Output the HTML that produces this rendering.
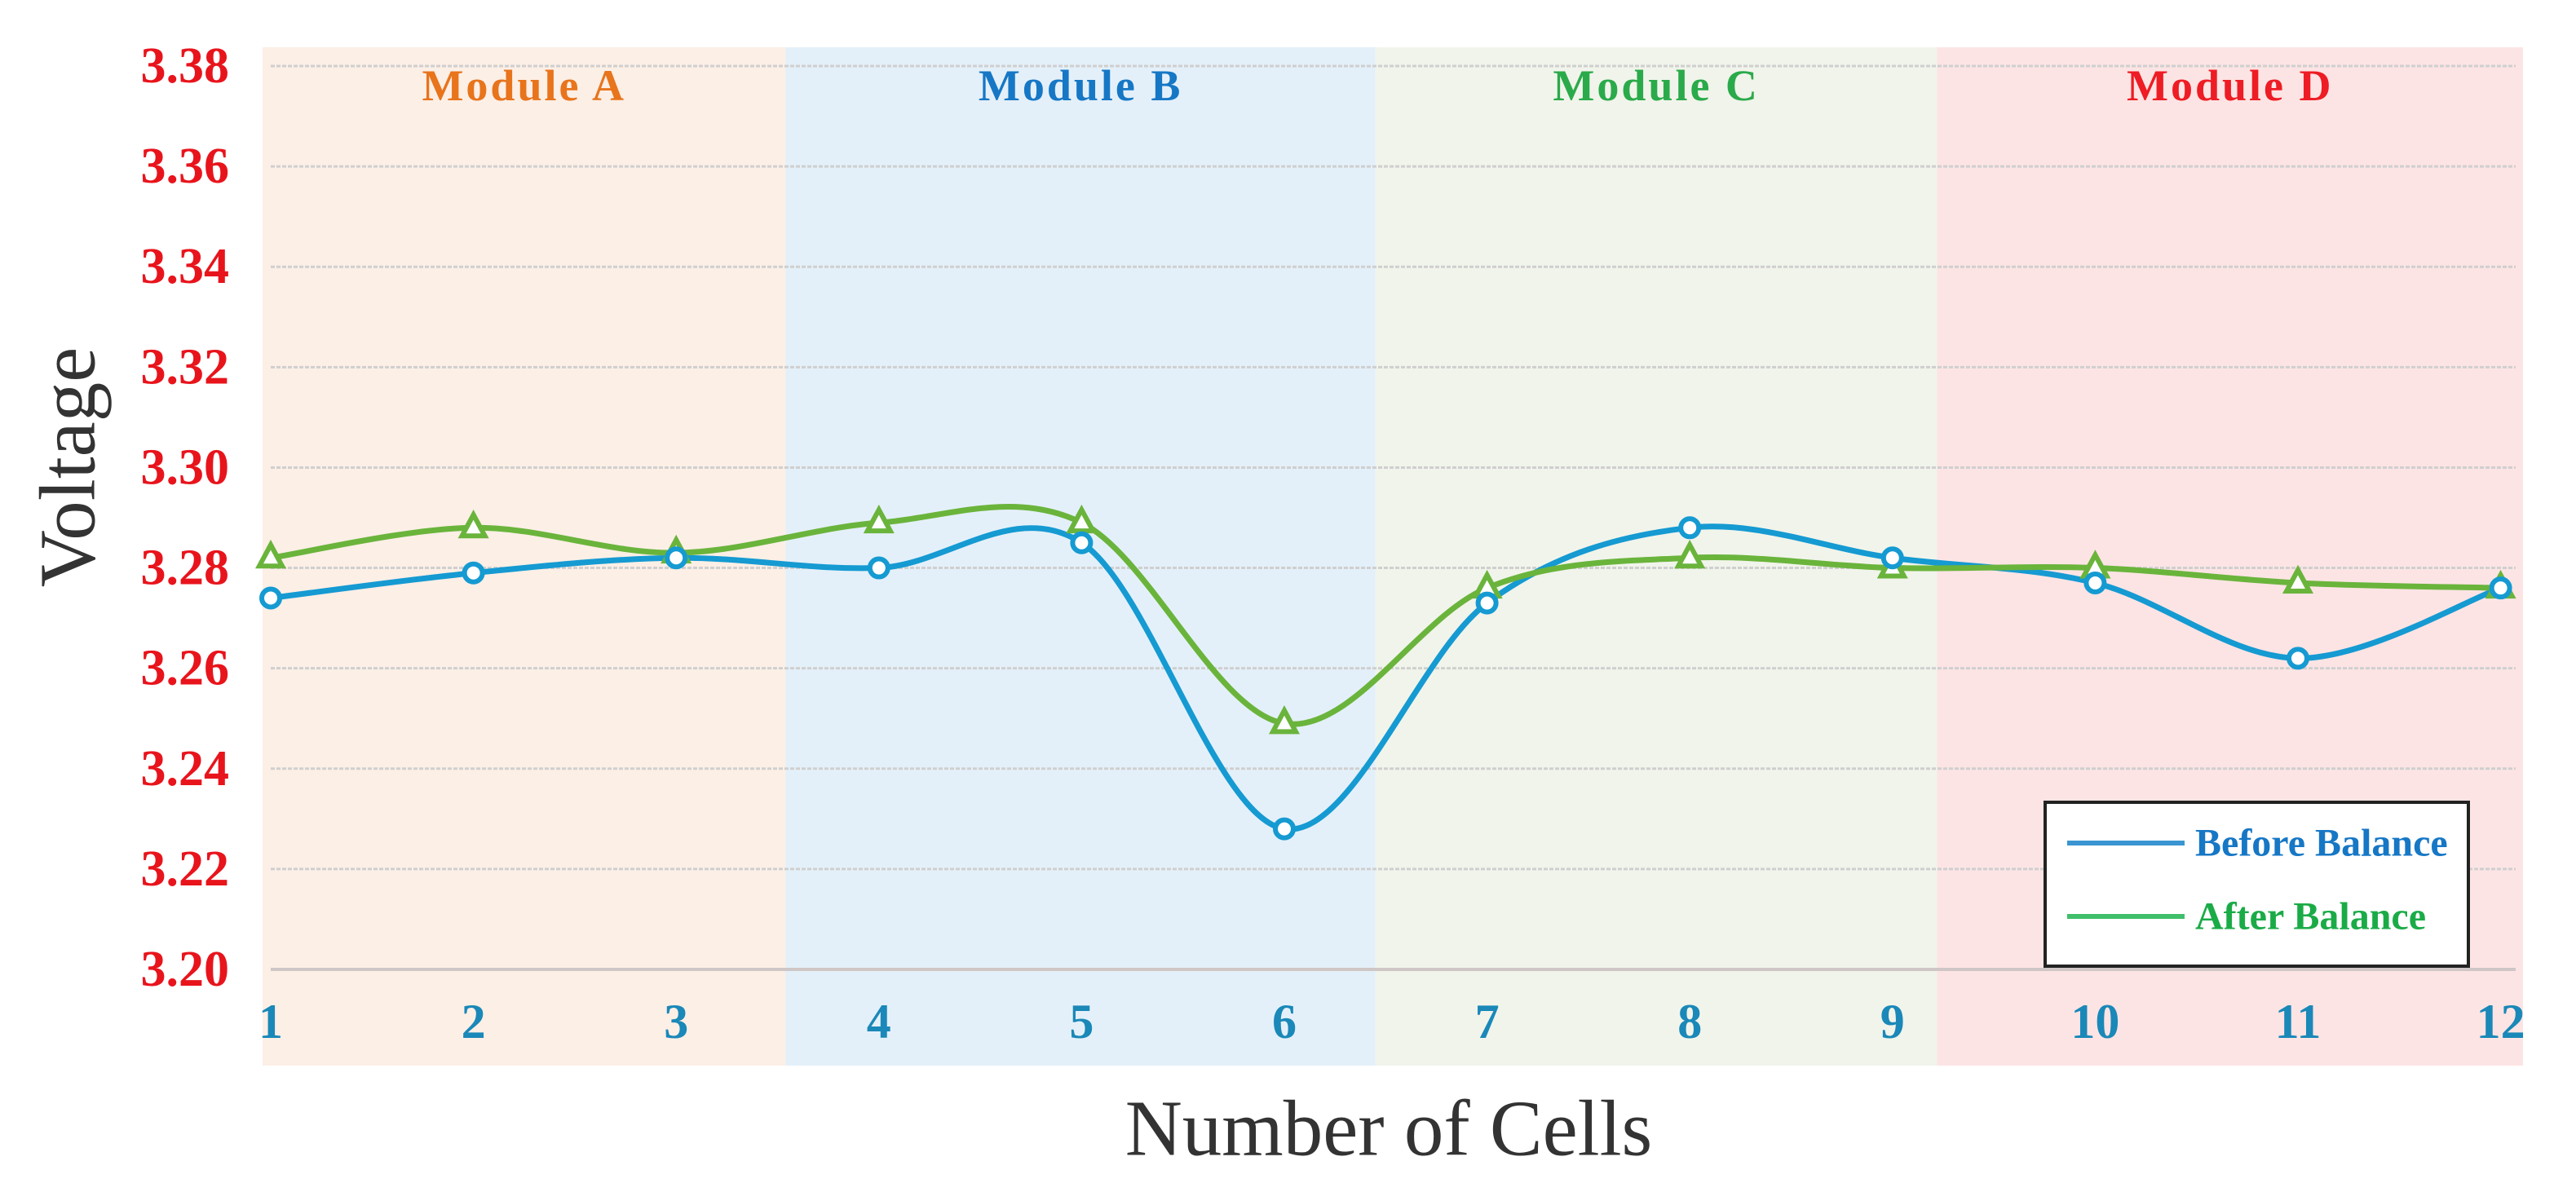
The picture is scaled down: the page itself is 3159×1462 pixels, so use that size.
<!DOCTYPE html>
<html><head><meta charset="utf-8"><style>
html,body{margin:0;padding:0;background:#fff;}
svg{display:block;}
text{font-family:"Liberation Serif",serif;}
</style></head><body>
<svg id="chart" width="3159" height="1462" viewBox="0 0 3159 1462" xmlns="http://www.w3.org/2000/svg">
<g id="bands"></g>
<g id="grid"></g>
<g id="ylabels"></g>
<g id="xlabels"></g>
<g id="series"></g>
<text x="83" y="573" transform="rotate(-90 83 573)" text-anchor="middle" dominant-baseline="central" font-size="97" fill="#333">Voltage</text>
<text x="1703" y="1384" text-anchor="middle" dominant-baseline="central" font-size="97" fill="#333">Number of Cells</text>
<g>
<rect x="2508" y="984" width="519" height="201" fill="#fff" stroke="#222" stroke-width="4"/>
<line x1="2535" y1="1034" x2="2679" y2="1034" stroke="#3a95d2" stroke-width="6"/>
<text x="2692" y="1034" dominant-baseline="central" font-size="48" font-weight="bold" fill="#1677c5">Before Balance</text>
<line x1="2535" y1="1124" x2="2679" y2="1124" stroke="#3fbf6a" stroke-width="6"/>
<text x="2692" y="1124" dominant-baseline="central" font-size="48" font-weight="bold" fill="#1aab47">After Balance</text>
</g>
</svg>
<script>
const cells = [1,2,3,4,5,6,7,8,9,10,11,12];
const beforeBalance = [3.274,3.279,3.282,3.280,3.285,3.228,3.273,3.288,3.282,3.277,3.262,3.276];
const afterBalance = [3.282,3.288,3.283,3.289,3.289,3.249,3.276,3.282,3.280,3.280,3.277,3.276];
const yTicks = [3.20,3.22,3.24,3.26,3.28,3.30,3.32,3.34,3.36,3.38];
const moduleNames = ["Module A","Module B","Module C","Module D"];
const moduleEdges = [0.6,3.54,6.45,9.22,12.11];
const moduleColors = ["#fcefe6","#e4f0f9","#f1f4eb","#fde4e4"];
const moduleTextColors = ["#e8741c","#1677c5","#2aaa4a","#ee1c24"];

const NS = "http://www.w3.org/2000/svg";
function X(v){ return 332 + (v-1)*248.6; }
function Y(v){ return 1189 - (v-3.20)/0.18*1108; }
function el(tag, attrs, parent){ const e=document.createElementNS(NS,tag); for(const k in attrs) e.setAttribute(k,attrs[k]); parent.appendChild(e); return e; }

const bands=document.getElementById('bands');
for(let i=0;i<moduleNames.length;i++){
  const x0=(i==0?322:X(moduleEdges[i])), x1=(i==moduleNames.length-1?3094:X(moduleEdges[i+1]));
  const r=el('rect',{x:x0,y:58,width:x1-x0,height:1249,fill:moduleColors[i]},bands);
  
  
  const t=el('text',{x:(x0+x1)/2,y:105,'text-anchor':'middle','dominant-baseline':'central','font-size':54,'font-weight':'bold','letter-spacing':3,fill:moduleTextColors[i]},bands);
  t.textContent=moduleNames[i];
  
  
}
const grid=document.getElementById('grid'), yl=document.getElementById('ylabels');
yTicks.forEach((v,i)=>{
  const l=el('line',{x1:332,x2:3085,y1:Y(v),y2:Y(v),stroke:i==0?'#cfc6c6':'#cfcfcf','stroke-width':i==0?4:3,'stroke-dasharray':i==0?'none':'5 2'},grid);
  
  
  const t=el('text',{x:281,y:Y(v),'text-anchor':'end','dominant-baseline':'central','font-size':62,'font-weight':'bold',fill:'#e8141c'},yl);
  t.textContent=v.toFixed(2);
  
  
});
const xl=document.getElementById('xlabels');
cells.forEach(c=>{
  const t=el('text',{x:X(c),y:1253,'text-anchor':'middle','dominant-baseline':'central','font-size':60,'font-weight':'bold',fill:'#1a88b8'},xl);
  t.textContent=c;
  
  
});
function smooth(vals){
  const p=vals.map((v,i)=>[X(cells[i]),Y(v)]);
  let d='M'+p[0][0]+','+p[0][1];
  for(let i=0;i<p.length-1;i++){
    const p0=p[Math.max(0,i-1)],p1=p[i],p2=p[i+1],p3=p[Math.min(p.length-1,i+2)];
    const t=1/6;
    d+=' C'+(p1[0]+(p2[0]-p0[0])*t)+','+(p1[1]+(p2[1]-p0[1])*t)+' '+(p2[0]-(p3[0]-p1[0])*t)+','+(p2[1]-(p3[1]-p1[1])*t)+' '+p2[0]+','+p2[1];
  }
  return d;
}
const s=document.getElementById('series');
const pb=el('path',{d:smooth(beforeBalance),fill:'none',stroke:'#159ad2','stroke-width':7},s);


const pa=el('path',{d:smooth(afterBalance),fill:'none',stroke:'#6ab43c','stroke-width':7},s);


afterBalance.forEach((v,i)=>{
  const x=X(cells[i]),y=Y(v);
  const m=el('polygon',{points:(x-14)+','+(y+10)+' '+(x+14)+','+(y+10)+' '+x+','+(y-16),fill:'#fff',stroke:'#6ab43c','stroke-width':6},s);
  
  
});
beforeBalance.forEach((v,i)=>{
  const m=el('circle',{cx:X(cells[i]),cy:Y(v),r:11,fill:'#fff',stroke:'#159ad2','stroke-width':6},s);
  
  
});
</script>
</body></html>
